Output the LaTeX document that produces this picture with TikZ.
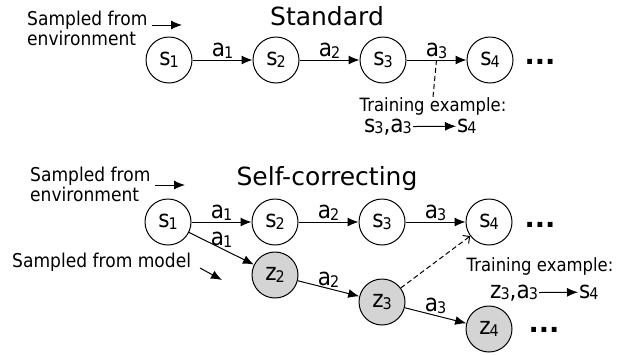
\documentclass[tikz,border=0pt]{standalone}
\usepackage{fontspec}
\setmainfont{DejaVu Sans}[FakeStretch=0.9]
\newfontfamily\titlefont{DejaVu Sans}
\usetikzlibrary{positioning,arrows.meta}
\definecolor{zfill}{gray}{0.83}
\newcommand{\lowsub}[1]{\kern-1pt\raisebox{-1.8pt}{\fontsize{16}{16}\selectfont #1}}
\tikzset{state/.style={draw, circle, line width=1pt, minimum size=46pt, inner sep=0pt, font=\fontsize{24}{24}\selectfont},
         sampled/.style={state, fill=zfill},
         line/.style={-{Latex[length=11pt,width=9pt]}, line width=1pt},
         hint/.style={dashed, dash pattern=on 5pt off 3pt, line width=1pt},
         act/.style={inner sep=1pt, font=\fontsize{24}{24}\selectfont},
         note/.style={inner sep=0pt, align=left, font=\fontsize{19}{20}\selectfont},
         train/.style={inner sep=0pt, font=\fontsize{18.3}{20}\selectfont},
         title/.style={inner sep=0pt, font=\fontsize{25}{28}\titlefont},
         more/.style={inner sep=0pt, font=\fontsize{27}{28}\titlefont\bfseries}}

\begin{document}
\begin{tikzpicture}[x=1pt,y=-1pt]
    \useasboundingbox (0,0) rectangle (628,354);

    % standard
    \node[title,anchor=base]         (std)  at (327,25) {Standard};
    \node[note,anchor=north west]    (env1) at (27,11)  {Sampled from\\environment};
    \coordinate                      (e1a)  at (152,25);
    \coordinate                      (e1b)  at (182,25);
    \node[state]                     (s1)   at (169,60) {s\lowsub{1}};
    \node[state,right=60pt of s1]    (s2)   {s\lowsub{2}};
    \node[state,right=60pt of s2]    (s3)   {s\lowsub{3}};
    \node[state,right=60pt of s3]    (s4)   {s\lowsub{4}};
    \node[more]                      (d1)   at (540,62) {...};
    \node[train]                     (tr1)  at (433,106) {Training example:};
    \node[act,anchor=base west]      (x1)   at (363,132) {s\lowsub{3},a\lowsub{3}};
    \node[act,anchor=base west]      (y1)   at (456,132) {s\lowsub{4}};

    \draw[line]               (e1a)-- (e1b);
    \draw[line]               (s1)-- node[act,above] {a\lowsub{1}} (s2);
    \draw[line]               (s2)-- node[act,above] {a\lowsub{2}} (s3);
    \draw[line]               (s3)-- node[act,above] {a\lowsub{3}} coordinate[pos=0.5] (m3) (s4);
    \draw[hint]               (m3)-- (tr1.north);
    \draw[line]               (x1)-- (y1);

    % self-correcting
    \node[title,anchor=base]         (selfc) at (327,185) {Self-correcting};
    \node[note,anchor=north west]    (env2)  at (30,167)  {Sampled from\\environment};
    \coordinate                      (e2a)   at (155,185);
    \coordinate                      (e2b)   at (185,185);
    \node[note,anchor=base west]     (mod)   at (12,267)  {Sampled from model};
    \coordinate                      (ma)    at (200,268);
    \coordinate                      (mb)    at (222,280);
    \node[state]                     (t1)    at (168,222) {s\lowsub{1}};
    \node[state,right=60pt of t1]    (t2)    {s\lowsub{2}};
    \node[state,right=60pt of t2]    (t3)    {s\lowsub{3}};
    \node[state,right=60pt of t3]    (t4)    {s\lowsub{4}};
    \node[sampled,below=6pt of t2]   (z2)    {z\lowsub{2}};
    \node[sampled,below=33pt of t3]  (z3)    {z\lowsub{3}};
    \node[sampled,below=60pt of t4]  (z4)    {z\lowsub{4}};
    \node[more]                      (d2)    at (540,225) {...};
    \node[more]                      (d3)    at (544,330) {...};
    \node[train]                     (tr2)   at (540,266) {Training example:};
    \node[act,anchor=base west]      (x2)    at (489,298) {z\lowsub{3},a\lowsub{3}};
    \node[act,anchor=base west]      (y2)    at (578,298) {s\lowsub{4}};

    \draw[line]               (e2a)-- (e2b);
    \draw[line]               (ma)-- (mb);
    \draw[line]               (t1)-- node[act,above] {a\lowsub{1}} (t2);
    \draw[line]               (t2)-- node[act,above] {a\lowsub{2}} (t3);
    \draw[line]               (t3)-- node[act,above] {a\lowsub{3}} (t4);
    \draw[line]               (t1)-- node[act,above] {a\lowsub{1}} (z2);
    \draw[line]               (z2)-- node[act,above] {a\lowsub{2}} (z3);
    \draw[line]               (z3)-- node[act,above] {a\lowsub{3}} (z4);
    \draw[hint,-{Straight Barb[length=5pt,width=10pt]}] (z3)-- (t4);
    \draw[line]               (x2)-- (y2);
\end{tikzpicture}
\end{document}
